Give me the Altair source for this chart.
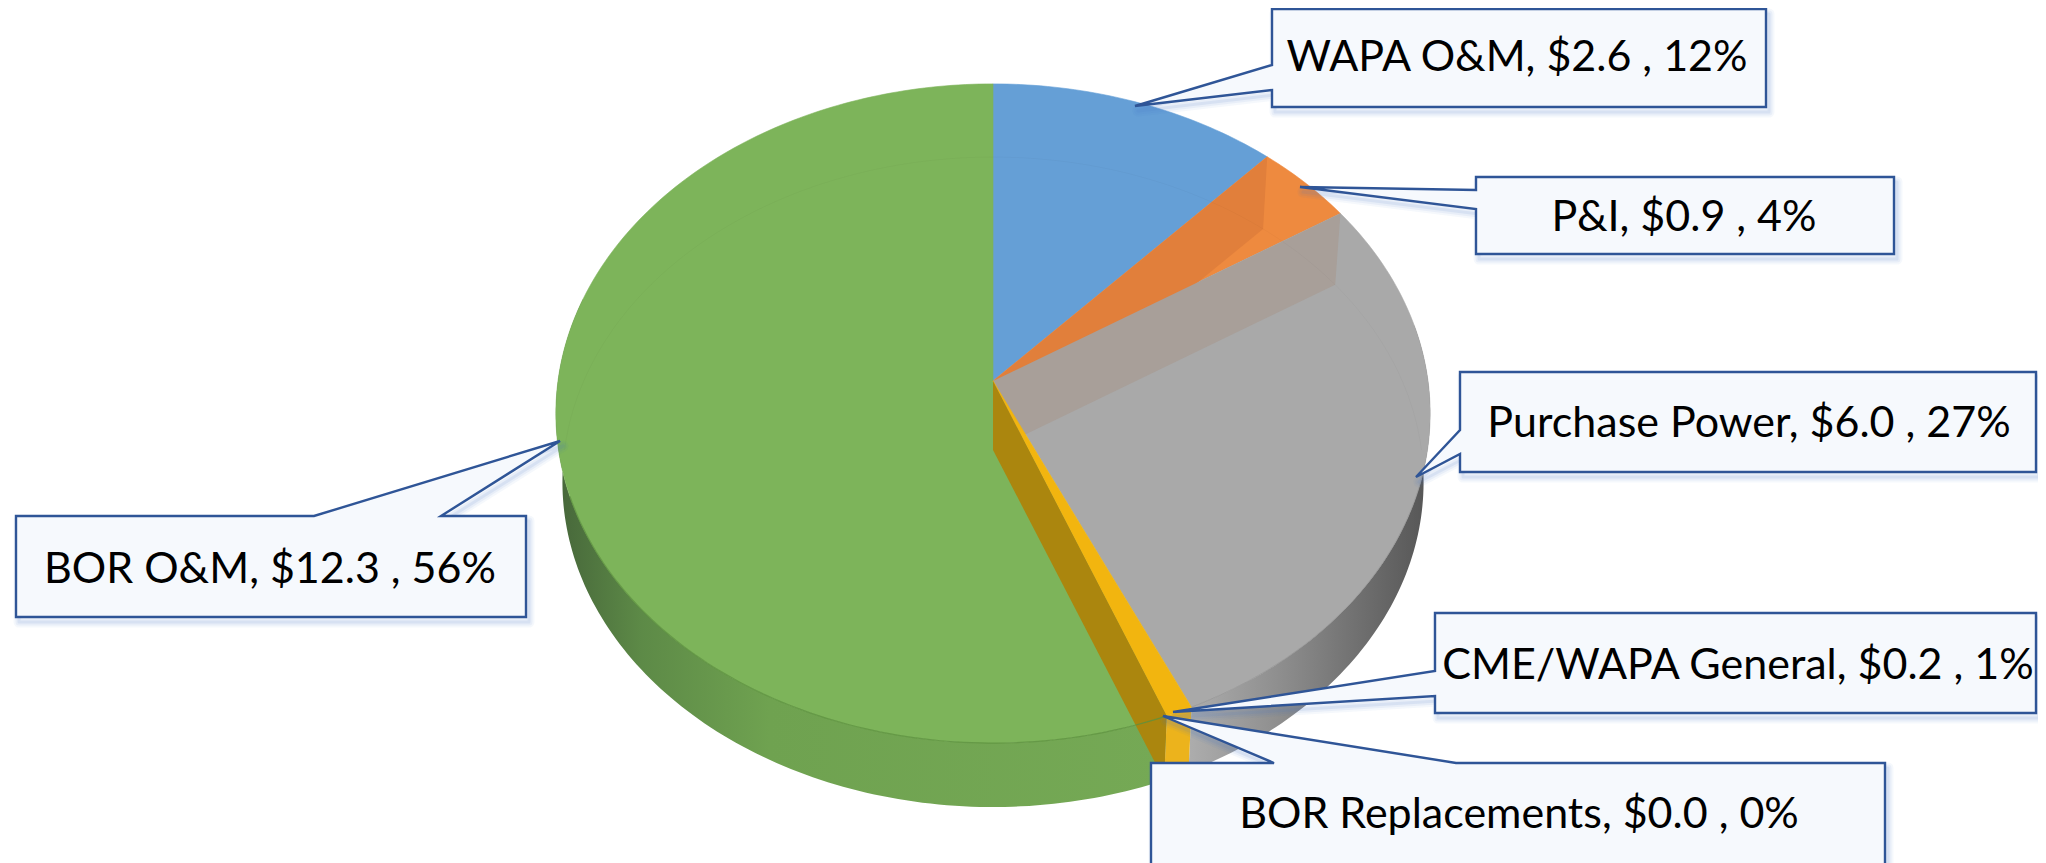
import math
import altair as alt
import pandas as pd

# --- chart values ------------------------------------------------------
categories = ["WAPA O&M", "P&I", "Purchase Power", "CME/WAPA General", "BOR Replacements", "BOR O&M"]
amounts = [2.6, 0.9, 6.0, 0.2, 0.0, 12.3]
percents = [12, 4, 27, 1, 0, 56]
top_colors = ["#659fd6", "#ee8a3f", "#a9a9a9", "#f2b50f", "#4472c4", "#7db45a"]

# --- layout of the tilted pie, in page pixels ---------------------------
CX, APEX_Y, APEX_BOTTOM_Y = 993, 381, 450
RX, RY, K = 435, 326.4, 0.0986
SX, SY = 0.985, 0.986

# --- callouts: box (left, top, right, bottom), tail (a, b, tip), label centre and baseline
callouts = {
    "WAPA O&M": dict(box=(1272, 9, 1766, 107), tail=((1272, 65), (1135, 106), (1272, 90)), text=(1517, 71)),
    "P&I": dict(box=(1476, 177, 1894, 254), tail=((1476, 190), (1300, 187), (1476, 209)), text=(1684, 231)),
    "Purchase Power": dict(box=(1460, 372, 2036, 472), tail=((1460, 430), (1416, 477), (1460, 454)), text=(1749, 437)),
    "CME/WAPA General": dict(box=(1435, 613, 2036, 713), tail=((1435, 671), (1173, 712), (1435, 696)), text=(1738, 679)),
    "BOR Replacements": dict(box=(1151, 763, 1885, 900), tail=((1274, 763), (1163, 716), (1456, 763)), text=(1519, 828)),
    "BOR O&M": dict(box=(16, 516, 526, 617), tail=((314, 516), (560, 441), (441, 516)), text=(270, 583)),
}

BOX_FILL, BOX_LINE = "#f6f9fd", "#2f5597"
SCALE_X = alt.Scale(domain=[8, 2038], range=[0, 2030], nice=False, zero=False)
SCALE_Y = alt.Scale(domain=[8, 863], range=[0, 855], nice=False, zero=False)


def proj(deg):
    t = math.radians(deg)
    d = 1 + K * math.cos(t)
    return RX * math.sin(t) / d, RY * math.cos(t) / d


def rim(deg):
    x, y = proj(deg)
    return CX + x, APEX_Y - y


def rim_b(deg):
    x, y = proj(deg)
    return CX + SX * x, APEX_BOTTOM_Y - SY * y


def arc(fn, a, b):
    n = max(2, int(abs(b - a)) + 1)
    return [fn(a + (b - a) * i / n) for i in range(n + 1)]


def poly(points, closed=True, **mark):
    df = pd.DataFrame(points, columns=["x", "y"])
    df["i"] = range(len(df))
    if closed:
        mark.setdefault("interpolate", "linear-closed")
    return alt.Chart(df).mark_line(clip=True, **mark).encode(
        x=alt.X("x:Q", scale=SCALE_X, axis=None),
        y=alt.Y("y:Q", scale=SCALE_Y, axis=None),
        order=alt.Order("i:Q"),
    )


def shade(stops, x1=0, x2=1, y1=0, y2=0):
    return alt.LinearGradient(
        gradient="linear", x1=x1, x2=x2, y1=y1, y2=y2,
        stops=[alt.GradientStop(offset=o, color=c) for o, c in stops],
    )


total = sum(amounts)
edges = [0.0]
for v in amounts:
    edges.append(edges[-1] + v / total * 360)
span = {c: (edges[i], edges[i + 1]) for i, c in enumerate(categories)}

apex = (CX, APEX_Y)
apex_b = (CX, APEX_BOTTOM_Y)


def slice_top(name, color):
    a, b = span[name]
    return poly([apex] + arc(rim, a, b), fill=color, stroke=color, strokeWidth=0.6)


def outer_wall(a, b, fill):
    return poly(arc(rim, a, b) + arc(rim_b, b, a), fill=fill, stroke=None)


def inner_wall(deg, fill):
    return poly([apex, rim(deg), rim_b(deg), apex_b], fill=fill, stroke=None)


color_of = dict(zip(categories, top_colors))
g_a, g_b = span["CME/WAPA General"]
gr_a, gr_b = span["Purchase Power"]
gn_a, gn_b = span["BOR O&M"]

layers = [
    outer_wall(gn_a, 285, shade([(0, "#46663a"), (0.14, "#5d8a47"), (0.35, "#6fa250"), (1, "#75a955")])),
    outer_wall(80, gr_b, shade([(0, "#555555"), (0.3, "#707070"), (0.6, "#8c8c8c"), (1, "#adadad")], x1=1, x2=0)),
    outer_wall(g_a, g_b, "#ecb31c"),
]
for name in ["WAPA O&M", "P&I", "Purchase Power", "BOR O&M"]:
    layers.append(slice_top(name, color_of[name]))
layers += [
    inner_wall(span["P&I"][0], "#e17f3b"),
    inner_wall(gr_a, "#a89f99"),
    slice_top("CME/WAPA General", color_of["CME/WAPA General"]),
    inner_wall(g_b, "#ab860e"),
    # bottom disc showing faintly through the top, and the near edge of the top
    poly(arc(rim_b, 270, 450), closed=False, stroke="#000000", strokeWidth=1, opacity=0.025),
    poly(arc(rim, gn_a, 250), closed=False, stroke="#5c913f", strokeWidth=1.2, opacity=0.8),
    poly(arc(rim, 105, gr_b), closed=False, stroke="#8c8c8c", strokeWidth=1, opacity=0.6),
]

labels = []
for cat, amt, pct in zip(categories, amounts, percents):
    c = callouts[cat]
    l, t, r, b = c["box"]
    a, tip, e = c["tail"]
    # walk the box clockwise, letting the tail in on the side it leaves from
    if a[0] == l and e[0] == l:  # left side
        pts = [(l, t), (r, t), (r, b), (l, b), e, tip, a]
    else:  # top side
        pts = [(l, t), a, tip, e, (r, t), (r, b), (l, b)]
    shadow = [(x + 3, y + 5) for x, y in pts]
    for width, op in [(11, 0.05), (7, 0.07), (3, 0.1)]:
        layers.append(poly(shadow, stroke="#4472c4", strokeWidth=width, opacity=op, strokeJoin="round"))
    layers.append(poly(pts, fill=BOX_FILL, stroke=BOX_LINE, strokeWidth=2.4, strokeJoin="miter"))
    labels.append({"label": f"{cat}, ${amt:.1f} , {pct}%", "x": c["text"][0], "y": c["text"][1]})

layers.append(
    alt.Chart(pd.DataFrame(labels)).mark_text(
        font="Lato", fontSize=43, color="#000000", align="center", baseline="alphabetic"
    ).encode(
        x=alt.X("x:Q", scale=SCALE_X, axis=None),
        y=alt.Y("y:Q", scale=SCALE_Y, axis=None),
        text="label:N",
    )
)

chart = alt.layer(*layers).properties(
    width=2030, height=855, padding=0, autosize="none", background="#ffffff"
).configure_view(stroke=None)

chart.save("out.html", embed_options={"renderer": "svg", "actions": False})
